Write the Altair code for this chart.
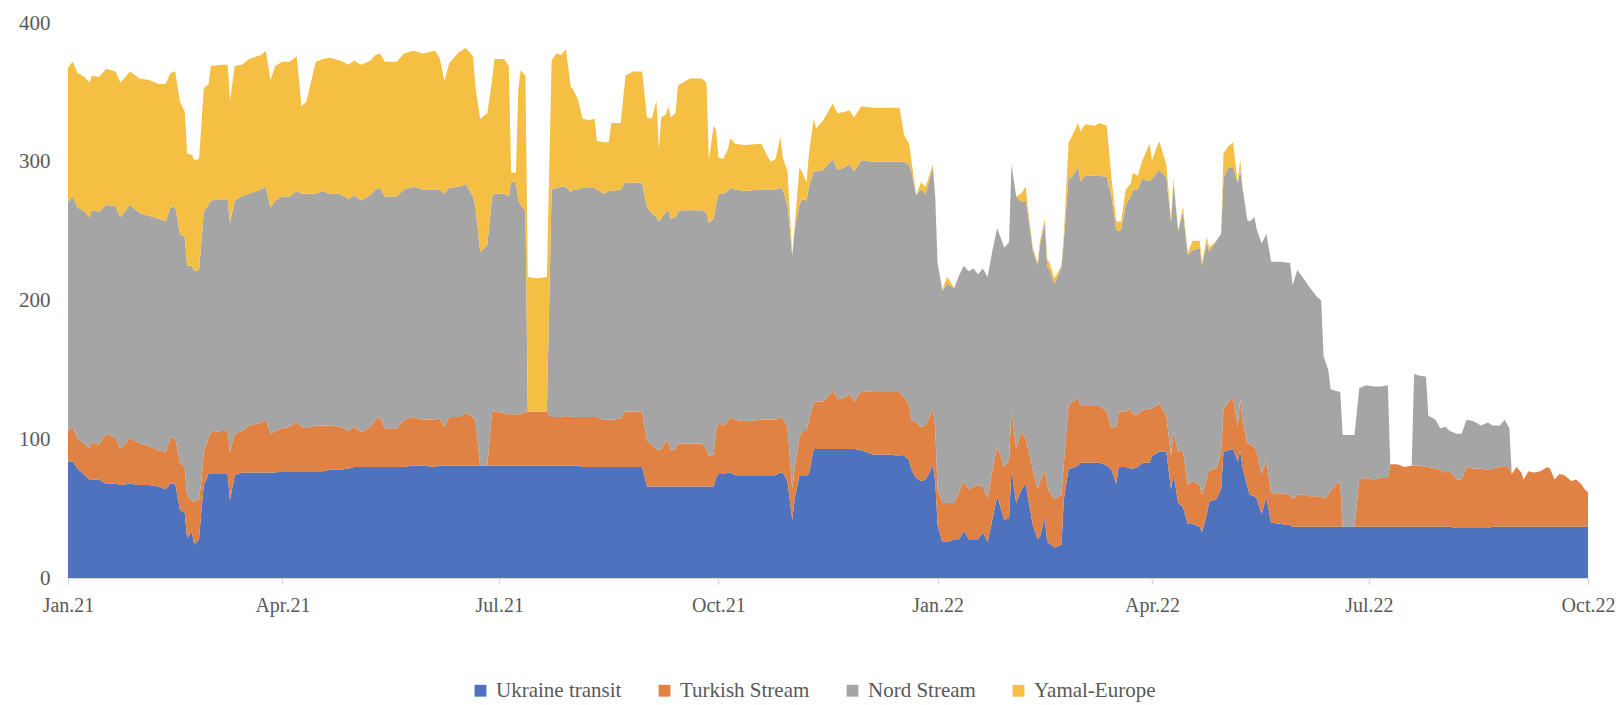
import altair as alt
import pandas as pd

start_date = "2021-01-01"

# day offsets from 1 Jan 2021 at which the stacked values were read
day = [
    0, 2, 4, 7, 9, 10, 13, 16, 20, 22, 26, 30, 34, 38, 41, 43, 45, 47, 49, 50, 52, 53, 55, 56, 57, 59, 60, 64, 67, 68,
    70, 73, 76, 81, 83, 85, 87, 90, 93, 96, 98, 100, 104, 107,
    110, 114, 118, 120, 123, 127, 129, 131, 133, 138, 141, 145, 149, 154, 156, 158, 160, 164, 167, 170, 171, 173, 176,
    178, 179, 183, 185, 186, 188, 189, 190, 192, 193, 197, 201, 203, 205, 207, 209, 211, 212, 214, 216, 219,
    221, 222, 225, 227, 228, 232, 234, 237, 241, 243, 245, 247, 248, 249, 251, 252, 253, 255, 256, 258, 261, 266, 268,
    269, 271, 272, 273, 275, 277, 278, 280, 284, 291, 293, 295, 297, 299, 300, 302, 304, 305, 307, 308, 310, 311, 313,
    314, 317, 321, 323, 326, 328,
    330, 333, 338, 345, 349, 351, 353, 354, 356, 358, 360, 363, 364, 365, 367, 369, 372, 374, 376, 378, 380, 382, 384,
    386, 388, 390, 393, 395, 396, 398, 400, 402, 403, 405, 407, 408, 410, 411, 412, 414, 417, 418, 420, 421, 424, 425,
    427, 431, 433, 436, 438, 440,
    441, 442, 444, 446, 447, 449, 451, 454, 455, 458, 461, 463, 464, 466, 468, 470, 472, 475, 476, 478, 479, 482, 484,
    485, 487, 489, 491, 492, 493, 495, 496, 498, 499, 501, 503, 505, 509, 513, 514, 516, 519, 521, 524, 526, 527, 529,
    530, 532, 534, 535, 540,
    542, 545, 548, 551, 554, 555, 558, 561, 564, 565, 567, 570, 571, 574, 576, 578, 580, 583, 585, 587, 590, 593, 596,
    598, 601, 603, 605, 606, 608, 610, 611, 613, 615, 618, 621, 622, 624, 626, 628, 631, 633, 635, 637, 638,
]

ukraine = [
    84, 84, 79, 74, 71, 71, 71, 68, 68, 67, 68, 67, 67, 66, 64, 68, 68, 49, 47, 29, 33, 24, 28, 49, 67, 75, 75, 75, 75, 56,
    74, 76, 76, 76, 76, 76, 76, 77, 77, 77, 77, 77, 77, 77,
    78, 78, 79, 80, 80, 80, 80, 80, 80, 80, 80, 81, 81, 80, 81, 81, 81, 81, 81, 81, 81, 81, 81,
    81, 81, 81, 81, 81, 81, 81, 81, 81, 81, 81, 81, 81, 81, 81, 81, 81, 81, 81, 80, 80,
    80, 80, 80, 80, 80, 80, 80, 80, 80, 66, 66, 66, 66, 66, 66, 66, 66, 66, 66, 66, 66, 66, 66,
    66, 66, 72, 75, 75, 76, 76, 74, 74, 74, 74, 74, 74, 76, 76, 70, 42, 57, 74, 74, 74, 75, 93,
    93, 93, 93, 93, 93, 93,
    93, 92, 89, 89, 88, 88, 85, 78, 72, 70, 71, 81, 70, 38, 26, 26, 28, 28, 34, 28, 28, 28, 33,
    26, 42, 59, 42, 43, 78, 54, 63, 68, 57, 38, 28, 30, 43, 26, 25, 22, 24, 57, 79, 79, 81, 83,
    83, 83, 83, 81, 78, 68,
    80, 80, 80, 79, 79, 80, 83, 83, 88, 91, 91, 64, 75, 54, 51, 39, 39, 37, 33, 46, 55, 57, 64,
    91, 92, 93, 84, 92, 80, 66, 60, 59, 57, 46, 58, 40, 39, 38, 37, 37, 37, 37, 37, 37, 37, 37,
    37, 37, 37, 37, 37,
    37, 37, 37, 37, 37, 37, 37, 37, 37, 37, 37, 37, 37, 37, 37, 37, 37, 36, 36, 36, 36, 36, 36,
    37, 37, 37, 37, 37, 37, 37, 37, 37, 37, 37, 37, 37, 37, 37, 37, 37, 37, 37, 37, 37,
]

turkish = [
    22, 25, 21, 23, 22, 27, 25, 36, 33, 26, 33, 30, 28, 26, 27, 33, 33, 34, 33, 30, 23, 31, 29, 21, 24, 26, 30, 31, 31, 35,
    30, 30, 34, 36, 38, 28, 30, 31, 32, 35, 32, 31, 33, 33,
    32, 31, 27, 29, 25, 29, 34, 36, 28, 28, 34, 35, 33, 34, 34, 28, 35, 35, 38, 35, 33, 0, 0,
    39, 39, 38, 37, 37, 37, 37, 37, 39, 39, 39, 39, 35, 35, 35, 36, 35, 35, 35, 36, 36,
    36, 36, 34, 34, 34, 35, 40, 40, 40, 33, 30, 27, 26, 27, 33, 32, 26, 27, 31, 31, 31, 31, 27,
    22, 23, 34, 37, 35, 37, 40, 40, 39, 40, 40, 40, 40, 40, 39, 39, 22, 23, 27, 32, 32, 39, 33,
    34, 34, 42, 36, 37, 40,
    34, 43, 45, 45, 46, 42, 40, 36, 40, 39, 39, 41, 39, 26, 28, 28, 26, 34, 36, 36, 38, 39, 33,
    31, 36, 36, 38, 42, 44, 39, 42, 33, 36, 40, 36, 40, 35, 41, 37, 35, 36, 26, 46, 47, 49, 41,
    41, 41, 41, 39, 30, 41,
    40, 40, 40, 43, 39, 38, 38, 39, 34, 35, 26, 24, 31, 37, 41, 28, 31, 30, 27, 26, 23, 22, 27,
    31, 35, 37, 25, 37, 34, 31, 37, 35, 34, 29, 27, 21, 22, 22, 20, 23, 23, 22, 22, 22, 20, 23,
    26, 30, 32, 0, 0,
    34, 35, 34, 35, 35, 45, 45, 43, 44, 44, 44, 43, 43, 42, 41, 39, 40, 35, 35, 44, 43, 43, 42,
    42, 43, 44, 42, 38, 43, 39, 34, 40, 39, 40, 43, 42, 34, 38, 37, 33, 34, 31, 26, 25,
]

nord = [
    165, 166, 167, 167, 167, 167, 168, 165, 167, 167, 168, 166, 166, 167, 166, 166, 167, 165, 166, 166, 169, 166, 165,
    173, 173, 168, 167, 167, 167, 165, 168, 169, 167, 168, 168, 163, 166, 167, 166, 167, 168, 169, 167, 169,
    167, 168, 167, 167, 167, 167, 166, 165, 167, 167, 166, 166, 166, 166, 165, 168, 165, 166, 165, 159, 154, 154, 159,
    155, 157, 158, 157, 168, 167, 154, 151, 144, 0, 0, 0, 164, 165, 166, 165, 162, 164, 164, 165, 165,
    165, 164, 163, 165, 165, 165, 165, 165, 165, 168, 167, 167, 165, 166, 165, 167, 167, 167, 167, 168, 168, 168, 170,
    168, 170, 163, 165, 167, 166, 165, 166, 166, 166, 166, 166, 166, 165, 165, 160, 168, 171, 168, 167, 166, 168, 167,
    166, 167, 167, 165, 166, 165,
    166, 166, 166, 166, 166, 170, 173, 179, 164, 171, 167, 174, 166, 163, 153, 158, 155, 156, 155, 157, 157, 152, 157,
    160, 158, 157, 158, 157, 176, 182, 166, 171, 168, 158, 161, 170, 178, 158, 160, 155, 164, 160, 165, 162, 166, 162,
    166, 166, 166, 169, 167, 142,
    130, 131, 149, 153, 162, 162, 167, 164, 166, 168, 172, 168, 179, 159, 172, 166, 166, 171, 165, 170, 157, 164, 157,
    166, 169, 166, 176, 165, 167, 161, 160, 166, 160, 166, 163, 167, 167, 167, 154, 162, 155, 151, 144, 141, 103, 90,
    73, 68, 65, 66, 66,
    66, 67, 67, 66, 67, 0, 0, 0, 0, 66, 65, 65, 37, 35, 30, 33, 29, 33, 33, 34, 34, 31, 34,
    31, 30, 33, 29, 0, 0, 0, 0, 0, 0, 0, 0, 0, 0, 0, 0, 0, 0, 0, 0, 0,
]

yamal = [
    97, 97, 97, 97, 97, 97, 97, 98, 97, 97, 96, 97, 98, 97, 99, 97, 97, 95, 90, 81, 80, 80, 80, 84, 89, 87, 97, 97, 97, 88,
    97, 95, 97, 97, 98, 92, 97, 97, 97, 97, 63, 66, 95, 95,
    98, 96, 97, 97, 98, 97, 97, 97, 97, 97, 98, 98, 98, 100, 95, 81, 90, 97, 98, 101, 86, 96, 95,
    84, 97, 97, 94, 6, 7, 80, 97, 98, 97, 96, 97, 93, 97, 95, 99, 76, 72, 65, 50, 49,
    50, 35, 37, 35, 49, 48, 77, 80, 80, 65, 68, 84, 52, 73, 70, 75, 73, 75, 91, 92, 95, 95, 94,
    45, 67, 54, 26, 25, 30, 36, 33, 33, 33, 26, 20, 22, 37, 23, 24, 1, 3, 27, 20, 13, 24, 38,
    31, 36, 40, 41, 40, 39,
    39, 39, 39, 39, 39, 19, 15, 8, 0, 5, 5, 2, 0, 0, 1, 5, 0, 0, 0, 0, 0, 0, 0,
    0, 0, 0, 0, 0, 0, 0, 6, 10, 4, 2, 2, 3, 3, 5, 5, 4, 1, 5, 24, 29, 32, 36,
    37, 36, 38, 37, 13, 6,
    7, 6, 11, 9, 12, 10, 13, 27, 13, 21, 9, 3, 3, 1, 4, 1, 7, 5, 2, 4, 3, 0, 0,
    18, 15, 18, 0, 8, 1, 0, 0, 0, 0, 0, 0, 0, 0, 0, 0, 0, 0, 0, 0, 0, 0, 0,
    0, 0, 0, 0, 0,
    0, 0, 0, 0, 0, 0, 0, 0, 0, 0, 0, 0, 0, 0, 0, 0, 0, 0, 0, 0, 0, 0, 0,
    0, 0, 0, 0, 0, 0, 0, 0, 0, 0, 0, 0, 0, 0, 0, 0, 0, 0, 0, 0, 0,
]

series_names = ["Ukraine transit", "Turkish Stream", "Nord Stream", "Yamal-Europe"]
series_colors = ["#4E72BE", "#DF8244", "#A5A5A5", "#F5BF44"]
y_ticks = [0, 100, 200, 300, 400]
x_ticks = [(2021, 1), (2021, 4), (2021, 7), (2021, 10), (2022, 1), (2022, 4), (2022, 7), (2022, 10)]

FONT = "Liberation Serif"
TEXT = "#595959"

for s in (ukraine, turkish, nord, yamal):
    assert len(s) == len(day), (len(s), len(day))

dates = pd.Timestamp(start_date) + pd.to_timedelta(day, unit="D")
rows = []
for idx, (name, vals) in enumerate(zip(series_names, [ukraine, turkish, nord, yamal])):
    for dt, v in zip(dates, vals):
        rows.append({"date": dt.strftime("%Y-%m-%dT00:00:00"), "series": name, "value": v, "k": idx})
df = pd.DataFrame(rows)

tick_values = [alt.DateTime(year=y, month=m, date=1) for y, m in x_ticks]

chart = alt.Chart(df).mark_area(interpolate="linear").encode(
    x=alt.X(
        "date:T",
        scale=alt.Scale(domain=[alt.DateTime(year=2021, month=1, date=1), alt.DateTime(year=2022, month=10, date=1)]),
        axis=alt.Axis(
            values=tick_values, format="%b.%y", title=None, grid=False,
            labelFont=FONT, labelFontSize=20, labelColor=TEXT,
            domainColor="#D9D9D9", domainWidth=1.5, tickColor="#D9D9D9", tickSize=6, tickWidth=1.5,
            labelPadding=11, labelFlush=False, labelOverlap=False,
        ),
    ),
    y=alt.Y(
        "value:Q", stack="zero",
        scale=alt.Scale(domain=[0, 400], nice=False),
        axis=alt.Axis(
            values=y_ticks, title=None, grid=False, domain=False, ticks=False, tickSize=0,
            labelFont=FONT, labelFontSize=21, labelColor=TEXT, labelPadding=18, labelFlush=False,
        ),
    ),
    color=alt.Color(
        "series:N",
        scale=alt.Scale(domain=series_names, range=series_colors),
        legend=alt.Legend(
            title=None, orient="none", legendX=402, legendY=657, direction="horizontal",
            symbolType="square", symbolSize=140, symbolStrokeWidth=0,
            labelFont=FONT, labelFontSize=21, labelColor=TEXT, labelOffset=5, columnPadding=32,
        ),
    ),
    order=alt.Order("k:Q", sort="ascending"),
).properties(
    width=1520,
    height=555,
    autosize=alt.AutoSizeParams(type="none"),
    padding={"left": 60, "top": 15, "right": 27, "bottom": 124},
).configure_view(stroke=None)

chart.save("out.html", embed_options={"renderer": "svg", "actions": False})
